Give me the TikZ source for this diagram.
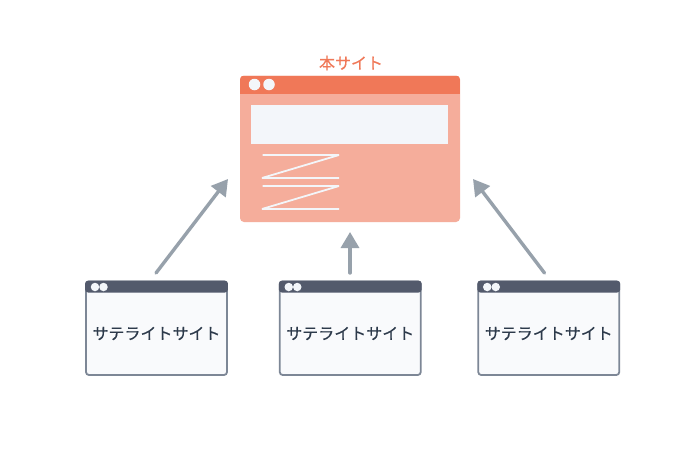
\documentclass[tikz,border=0pt]{standalone}
\usepackage{fontspec}
\newfontfamily\cjk[RawFeature={embolden=0.35}]{Noto Sans CJK JP}
\usetikzlibrary{arrows.meta}
\definecolor{mainbar}{HTML}{F07858}
\definecolor{mainbody}{HTML}{F5AD9B}
\definecolor{paper}{HTML}{F3F6FA}
\definecolor{satbar}{HTML}{535A6C}
\definecolor{satedge}{HTML}{7D8796}
\definecolor{satbody}{HTML}{F9FAFC}
\definecolor{arrowgrey}{HTML}{97A1AB}
\definecolor{inktext}{HTML}{2D3A4B}
\tikzset{
  x=1pt,y=-1pt,
  mainwin/.style={fill=mainbody,draw=none,rounded corners=4pt,minimum width=220pt,minimum height=146.5pt,inner sep=0pt,outer sep=0pt},
  satwin/.style={fill=satbody,draw=satedge,line width=1.8pt,rounded corners=3pt,minimum width=141pt,minimum height=93.5pt,inner sep=0pt,outer sep=0pt},
  sitearrow/.style={draw=arrowgrey,line width=3.4pt,line cap=round,-{Triangle[length=16pt,width=18pt]}},
  whiteline/.style={draw=paper,line width=1.8pt,line join=bevel},
  dot/.style={fill=paper,draw=none,circle,inner sep=0pt,outer sep=0pt},
}
\begin{document}
\begin{tikzpicture}
\useasboundingbox (0,0) rectangle (700,451);
\fill[white] (0,0) rectangle (700,451);
% main window
\node[mainwin] (main) at (350,148.75) {};
\begin{scope}
  \clip[rounded corners=4pt] (240,75.5) rectangle (460,222);
  \fill[mainbar] (240,75.5) rectangle (460,94);
\end{scope}
\node[dot,minimum size=11.5pt] (m1) at (254.5,84.5) {};
\node[dot,minimum size=11.5pt] (m2) at (269,84.5) {};
\node[fill=paper,minimum width=197pt,minimum height=39pt,inner sep=0pt] (banner) at (349.5,124.5) {};
\draw[whiteline] (262.5,155) -- (339,155) -- (262,178) -- (339,178);
\draw[whiteline] (262.5,186) -- (339,186) -- (262,209) -- (339,209);
\node[text=mainbar,font=\cjk\fontsize{16}{16}\selectfont] (title) at (351,63) {本サイト};
% satellites
\foreach \n/\cx/\tx in {a/156.5/156.5,b/350.25/350.25,c/548.75/548.75}{
  \node[satwin] (\n) at (\cx,328.25) {};
  \fill[satbar,rounded corners=3pt] (\cx-71.4,292.5) -- (\cx-71.4,280.6) -- (\cx+71.4,280.6) -- (\cx+71.4,292.5) -- cycle;
  \node[dot,minimum size=8.5pt] (\n1) at (\cx-61.5,287) {};
  \node[dot,minimum size=8.5pt] (\n2) at (\cx-53,287) {};
  \node[text=inktext,font=\cjk\fontsize{16}{16}\selectfont] (\n t) at (\cx,333.5) {サテライトサイト};
}
% arrows
\coordinate (ta) at (228,179);
\coordinate (tb) at (350,232);
\coordinate (tc) at (473,179);
\coordinate (sa) at (156,273);
\coordinate (sb) at (350,273);
\coordinate (sc) at (544.5,273);
\draw[sitearrow] (sa) -- (ta);
\draw[sitearrow] (sb) -- (tb);
\draw[sitearrow] (sc) -- (tc);
\end{tikzpicture}
\end{document}
